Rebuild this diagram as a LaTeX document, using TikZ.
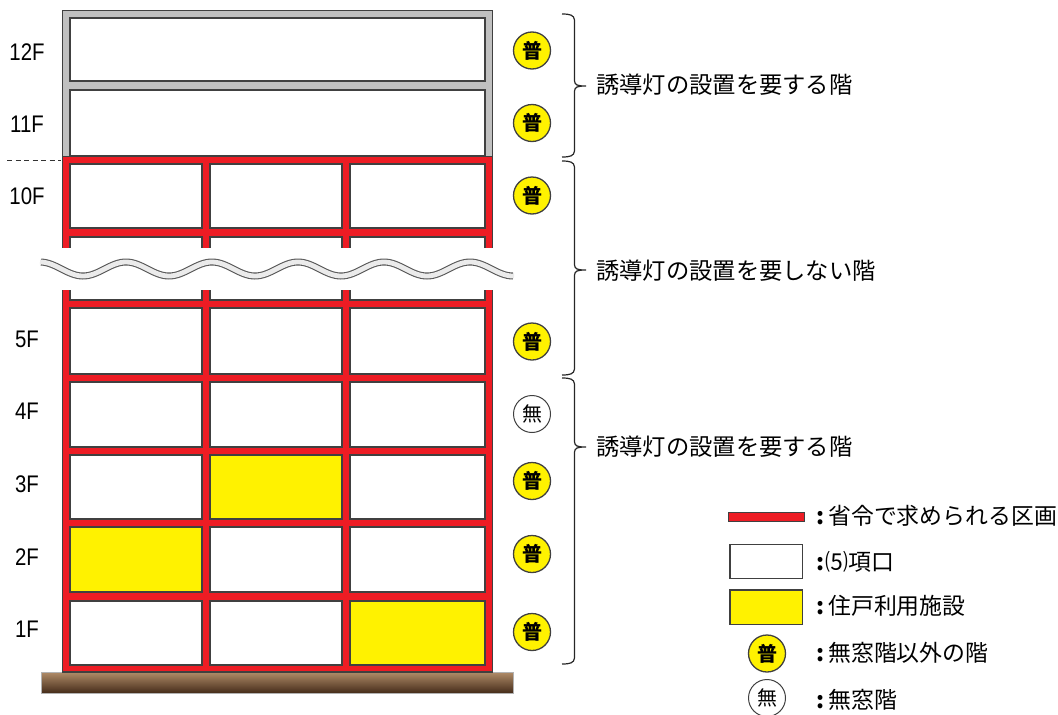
\documentclass[tikz,border=0pt]{standalone}
\usepackage{fontspec}
\setmainfont{Noto Sans CJK JP}
\newfontfamily\latinlabel{Liberation Sans}
\definecolor{wallred}{HTML}{ED1C24}
\definecolor{wallgray}{HTML}{C0C0C0}
\definecolor{useyellow}{HTML}{FFF200}
\definecolor{edgedark}{HTML}{404040}
\definecolor{groundtop}{HTML}{B08C68}
\definecolor{groundbot}{HTML}{452C1A}
\tikzset{
  edged/.style={draw=edgedark,line width=1.3pt},
  roomwhite/.style={edged,fill=white},
  roomyellow/.style={edged,fill=useyellow},
  wallbody/.style={edged,fill=wallred},
  floorlabel/.style={inner sep=0pt,font=\latinlabel\fontsize{24}{24}\selectfont,xscale=.85},
  notelabel/.style={inner sep=0pt,anchor=west,font=\fontsize{23.3}{24}\selectfont},
  keylabel/.style={inner sep=0pt,anchor=west,font=\fontsize{22.9}{24}\selectfont},
  badgeyes/.style={circle,draw=edgedark,line width=1.3pt,fill=useyellow,minimum size=37pt,inner sep=0pt,font=\bfseries\fontsize{20}{20}\selectfont},
  badgeno/.style={circle,draw=edgedark,line width=1pt,fill=white,minimum size=37pt,inner sep=0pt,font=\fontsize{20}{20}\selectfont},
  bracket/.style={draw=black!85,line width=1.2pt}
}
\newcommand{\bracketpath}[3]{%
  \draw[bracket] (562,#1) .. controls (570,#1) and (574,#1+1) .. (574.5,#1+6)
    -- (574.5,#2-5) .. controls (575,#2-1) and (577,#2) .. (586,#2)
    .. controls (577,#2) and (575,#2+1) .. (574.5,#2+5)
    -- (574.5,#3-6) .. controls (574,#3-1) and (570,#3) .. (562,#3);}
\begin{document}
\begin{tikzpicture}[x=1pt,y=-1pt]
\useasboundingbox (0,0) rectangle (1058,715);
% ground
\path[top color=groundtop,bottom color=groundbot,draw=black!30,line width=.5pt] (41,672) rectangle (513,693);
% upper grey block
\path[edged,fill=wallgray] (62.5,10.5) rectangle (492.5,160);
\path[roomwhite] (70,18) rectangle (485,81);
\path[roomwhite] (70,90) rectangle (485,156);
% red block
\path[wallbody] (62.5,156.5) rectangle (492.5,672);
% rooms
\foreach \ya/\yb in {164/228,237/300,308/374,382/447,455/519,527/592,601/665}{
  \path[roomwhite] (70,\ya) rectangle (202,\yb);
  \path[roomwhite] (210,\ya) rectangle (342,\yb);
  \path[roomwhite] (350,\ya) rectangle (485,\yb);
}
\path[roomyellow] (210,455) rectangle (342,519);
\path[roomyellow] (70,527) rectangle (202,592);
\path[roomyellow] (350,601) rectangle (485,665);
% break
\fill[white] (40,248) rectangle (514,289.5);
\draw[color=black!65,line width=7pt] plot[domain=41:513,samples=160,smooth] (\x,{269+7*cos((\x-83)/86*360)});
\draw[color=black!8,line width=4.8pt] plot[domain=40:514,samples=160,smooth] (\x,{269+7*cos((\x-83)/86*360)});
% level dashes
\coordinate (dashfrom) at (7,160);
\coordinate (dashto) at (61,160);
\draw[black!80,line width=1pt,dash pattern=on 5pt off 3.5pt] (dashfrom) -- (dashto);
% floors
\node[floorlabel] (f12) at (27,52) {12F};
\node[floorlabel] (f11) at (27,124) {11F};
\node[floorlabel] (f10) at (27,196) {10F};
\node[floorlabel] (f5) at (27,339) {5F};
\node[floorlabel] (f4) at (27,411) {4F};
\node[floorlabel] (f3) at (27,484) {3F};
\node[floorlabel] (f2) at (27,557) {2F};
\node[floorlabel] (f1) at (27,629) {1F};
% badges
\node[badgeyes] (b12) at (532,50.5) {普};
\node[badgeyes] (b11) at (532,123) {普};
\node[badgeyes] (b10) at (532,195.5) {普};
\node[badgeyes] (b5) at (532,341.5) {普};
\node[badgeno] (b4) at (532,414) {無};
\node[badgeyes] (b3) at (532,481) {普};
\node[badgeyes] (b2) at (532,554) {普};
\node[badgeyes] (b1) at (532,632) {普};
% braces
\bracketpath{14}{86}{157}
\bracketpath{161}{270}{375}
\bracketpath{378}{447}{664}
\node[notelabel] (n1) at (596,85) {誘導灯の設置を要する階};
\node[notelabel] (n2) at (596,271) {誘導灯の設置を要しない階};
\node[notelabel] (n3) at (596,447) {誘導灯の設置を要する階};
% legend
\path[edged,fill=wallred] (728.5,512.5) rectangle (804.5,521.5);
\path[roomwhite] (730,544.5) rectangle (802.5,578.5);
\path[roomyellow] (730,590) rectangle (802.5,624.5);
\node[badgeyes] (k4) at (767,653.5) {普};
\node[badgeno] (k5) at (767,698) {無};
\node[keylabel] (t1) at (816,516) {\textbf{:}\hspace{4pt}省令で求められる区画};
\node[keylabel] (t2) at (816,562) {\textbf{:}\hspace{1pt}⑸項口};
\node[keylabel] (t3) at (816,606) {\textbf{:}\hspace{4pt}住戸利用施設};
\node[keylabel] (t4) at (816,653) {\textbf{:}\hspace{4pt}無窓階以外の階};
\node[keylabel] (t5) at (816,700) {\textbf{:}\hspace{4pt}無窓階};
\end{tikzpicture}
\end{document}
